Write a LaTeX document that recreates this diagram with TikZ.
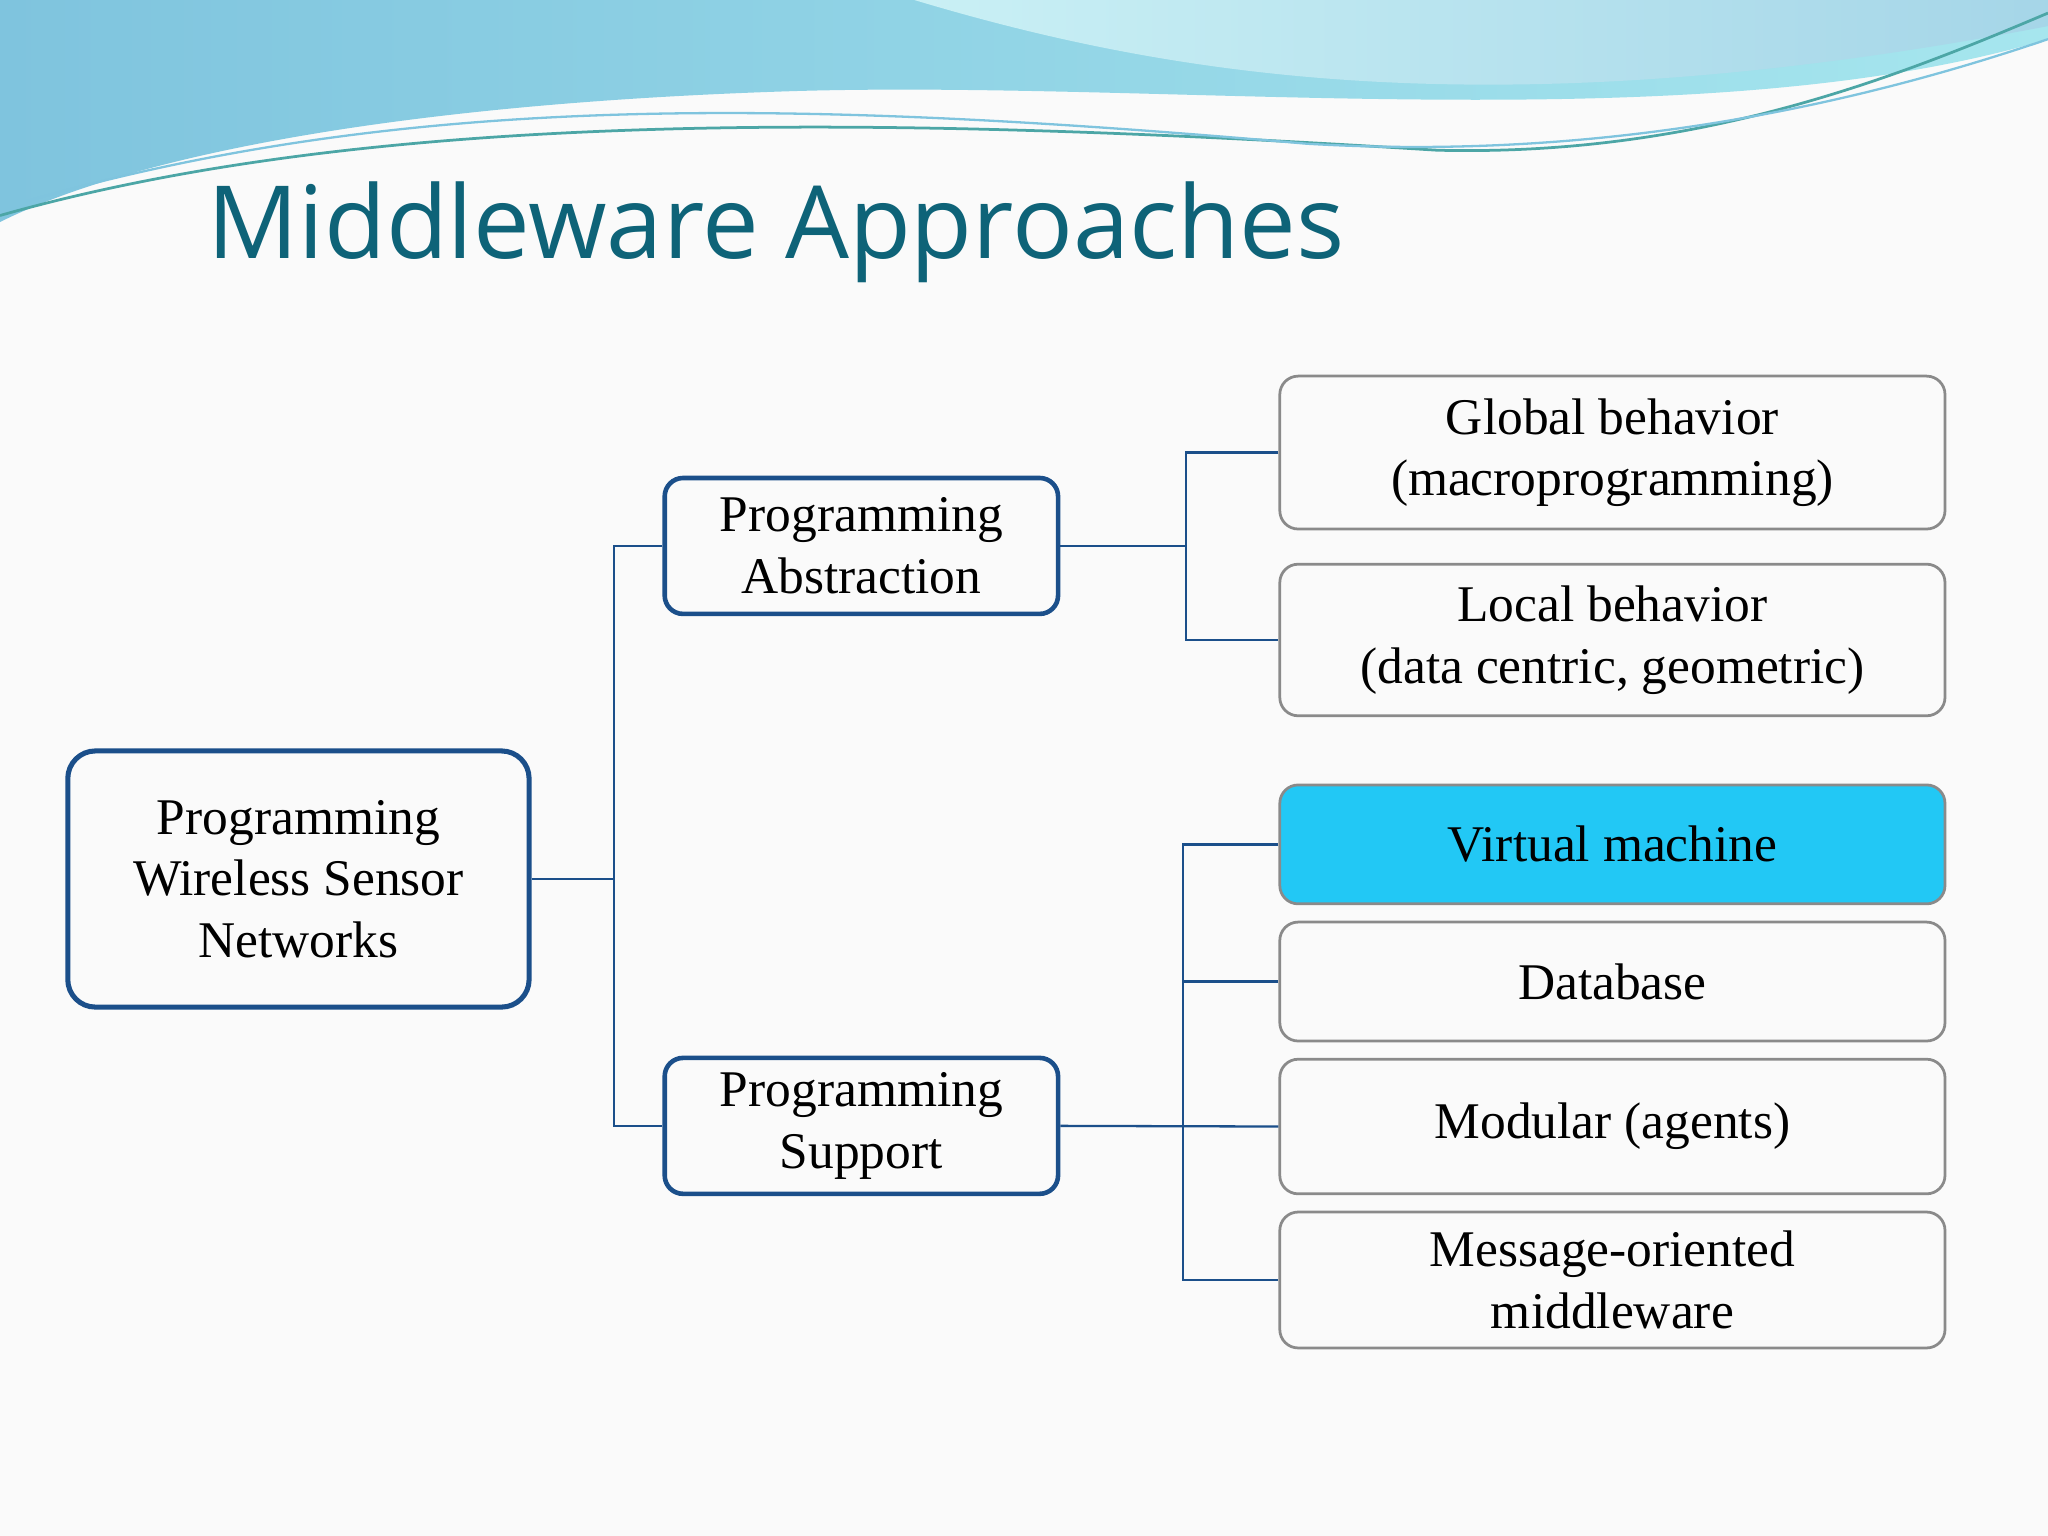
\documentclass[tikz,border=0pt]{standalone}
\usepackage{fontspec}
\setmainfont{Liberation Serif}
\newfontfamily\titlefont{Open Sans}
\definecolor{dblue}{HTML}{1B4F8A}
\definecolor{lgray}{HTML}{8A8A8A}
\definecolor{vmfill}{HTML}{22C8F5}
\definecolor{titlec}{HTML}{0E6378}
\definecolor{wave1}{HTML}{7FC4DE}
\definecolor{wave2}{HTML}{A6E6EE}
\begin{document}
\begin{tikzpicture}[x=0.01cm,y=-0.01cm,
  mainbox/.style={draw=dblue,line width=1.1pt,rounded corners=6pt,align=center,font=\fontsize{11.2}{13.4}\selectfont},
  midbox/.style={draw=dblue,line width=1pt,rounded corners=4pt,align=center,font=\fontsize{11.2}{13.4}\selectfont,minimum width=3.01cm,minimum height=1.04cm,inner sep=0pt},
  leafbox/.style={draw=lgray,line width=0.6pt,rounded corners=4pt,align=center,font=\fontsize{11.2}{13.4}\selectfont,minimum width=5.09cm,inner sep=0pt},
  conn/.style={draw=dblue,line width=0.5pt}]
\useasboundingbox (0,0) rectangle (1568,1176);
\fill[white!96!gray] (0,0) rectangle (1568,1176);
% waves
\shade[left color=wave1,right color=wave2] (0,0) -- (1568,0) -- (1568,30) .. controls (1300,110) and (900,60) .. (600,70) .. controls (300,80) and (100,120) .. (0,170) -- cycle;
\shade[left color=wave2!60!white,right color=wave1!70!white] (700,0) .. controls (900,60) and (1150,100) .. (1568,20) -- (1568,0) -- cycle;
\draw[teal!70,line width=0.6pt] (0,165) .. controls (300,80) and (700,90) .. (1100,115) .. controls (1300,120) and (1450,60) .. (1568,10);
\draw[wave1,line width=0.5pt] (0,160) .. controls (300,70) and (600,75) .. (1000,110) .. controls (1250,125) and (1450,70) .. (1568,30);
\node[anchor=west,text=titlec,font=\titlefont\fontsize{22}{26}\selectfont,inner sep=0pt] (title) at (158,178) {Middleware Approaches};
% nodes
\node[mainbox,minimum width=3.53cm,minimum height=1.96cm,inner sep=0pt] (root) at (228.5,673) {Programming\\Wireless Sensor\\Networks};
\node[midbox] (pa) at (659.5,418) {Programming\\Abstraction};
\node[midbox] (ps) at (659.5,862) {Programming\\Support};
\node[leafbox,minimum height=1.17cm] (gb) at (1234.5,346.5) {Global behavior\\(macroprogramming)};
\node[leafbox,minimum height=1.16cm] (lb) at (1234.5,490) {Local behavior\\(data centric, geometric)};
\node[leafbox,minimum height=0.91cm,fill=vmfill] (vm) at (1234.5,646.5) {Virtual machine};
\node[leafbox,minimum height=0.91cm] (db) at (1234.5,751.5) {Database};
\node[leafbox,minimum height=1.03cm] (mod) at (1234.5,862.5) {Modular (agents)};
\node[leafbox,minimum height=1.04cm] (mom) at (1234.5,980) {Message-oriented\\middleware};
% connectors
\coordinate (j1) at (470,673);
\coordinate (j2) at (908,418);
\coordinate (j3) at (906,862);
\draw[conn] (root.east) -- (j1);
\draw[conn] (pa.west) -| (j1) |- (ps.west);
\draw[conn] (pa.east) -- (j2);
\draw[conn] (gb.west) -| (j2) |- (lb.west);
\draw[conn] (ps.east) -- (mod.west);
\draw[conn] (vm.west) -| (j3) |- (mom.west);
\draw[conn] (db.west) -- (db.west -| j3);
\end{tikzpicture}
\end{document}
